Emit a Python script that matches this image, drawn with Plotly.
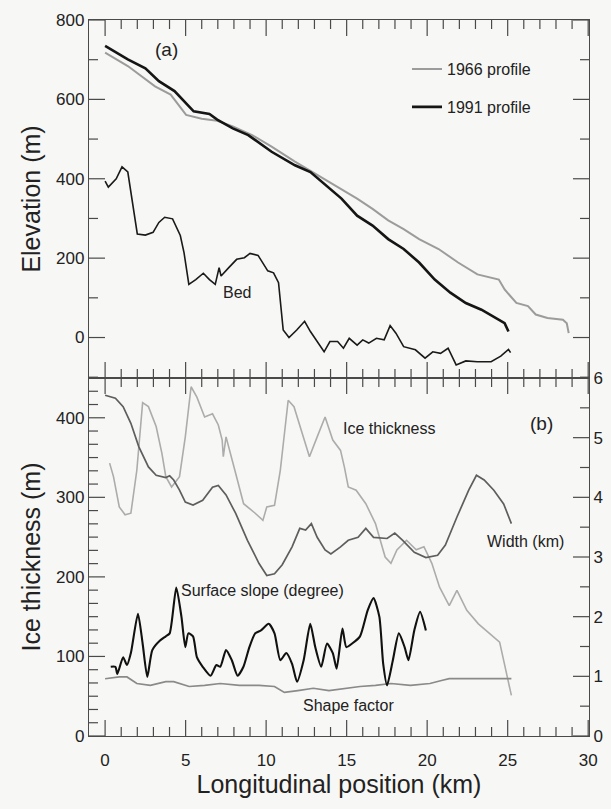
import plotly.graph_objects as go

# ---------------- Panel (a): elevation profiles ----------------
x1991 = [0.0, 1.41, 2.5, 3.34, 4.31, 5.5, 6.48, 6.96, 7.93, 8.89, 10.34, 11.79, 12.75, 13.96,
         14.68, 15.65, 16.61, 17.58, 18.54, 19.5, 20.47, 21.44, 22.4, 23.37, 24.09, 24.57, 24.81, 25.05]
z1991 = [735, 701, 678, 646, 621, 570, 563, 549, 527, 510, 468, 434, 417, 375,
         350, 307, 282, 248, 223, 189, 146, 113, 87, 70, 53, 41, 36, 15]

x1966 = [0.0, 1.41, 3.1, 4.07, 5.03, 6.0, 6.96, 7.93, 9.13, 10.34, 11.79, 13.23, 14.44, 15.65,
         16.61, 17.58, 18.54, 19.5, 20.71, 21.92, 23.12, 23.85, 24.45, 24.81, 25.54, 26.26, 26.74,
         27.47, 28.43, 28.67, 28.79]
z1966 = [718, 684, 633, 612, 561, 551, 546, 532, 510, 481, 443, 409, 379, 350,
         324, 295, 273, 248, 223, 189, 159, 151, 146, 121, 87, 79, 58,
         49, 45, 36, 11]

xbed = [0.0, 0.2, 0.69, 1.05, 1.41, 1.65, 2.0, 2.5, 2.98, 3.34, 3.7, 4.19, 4.67, 4.9, 5.2, 5.63,
        6.1, 6.48, 6.84, 7.08, 7.2, 7.68, 8.17, 8.65, 9.0, 9.5, 10.1, 10.46, 10.77, 11.06, 11.42,
        11.9, 12.39, 12.75, 13.23, 13.6, 13.96, 14.44, 14.8, 15.16, 15.65, 16.0, 16.37, 16.85,
        17.33, 17.7, 18.06, 18.54, 19.27, 19.87, 20.35, 20.83, 21.3, 21.8, 22.4, 23.12, 23.97,
        24.57, 25.05, 25.18]
zbed = [394, 379, 400, 430, 417, 350, 261, 258, 265, 290, 303, 299, 257, 214, 134, 146,
        162, 146, 134, 176, 155, 176, 197, 201, 212, 207, 168, 163, 138, 19, 0,
        19, 41, 15, -14, -36, -10, -10, -27, -2, -19, -6, -14, -2,
        -6, 30, 11, -23, -31, -52, -36, -40, -27, -69, -59, -61, -61,
        -47, -30, -38]

# ---------------- Panel (b) ----------------
x_thick = [0.28, 0.52, 0.88, 1.24, 1.6, 1.97, 2.33, 2.69, 3.17, 3.53, 3.77, 4.13, 4.62, 4.98,
           5.34, 5.7, 6.18, 6.67, 7.03, 7.27, 7.34, 7.51, 8.11, 8.6, 9.32, 9.8, 10.04, 10.52,
           10.88, 11.37, 11.73, 12.21, 12.69, 13.17, 13.66, 14.14, 14.62, 14.86, 15.1, 15.59,
           16.19, 16.79, 17.15, 17.39, 17.75, 18.12, 18.72, 19.32, 19.8, 20.29, 20.77, 21.37,
           21.85, 22.46, 23.18, 23.9, 24.5, 24.75, 24.99, 25.23]
ice_thickness = [343, 326, 288, 278, 280, 334, 419, 414, 389, 355, 326, 313, 326, 376,
                 439, 426, 401, 405, 391, 372, 351, 376, 330, 292, 280, 271, 288, 290,
                 334, 422, 414, 384, 351, 376, 401, 372, 359, 338, 313, 309,
                 292, 267, 242, 225, 217, 234, 246, 234, 238, 217, 187, 164,
                 183, 158, 141, 129, 118, 95, 74, 51]

x_width = [0.0, 0.64, 1.12, 1.6, 2.09, 2.69, 3.17, 3.77, 4.01, 4.26, 4.62, 4.98, 5.46, 6.06,
           6.67, 7.03, 7.51, 8.11, 8.84, 9.56, 10.04, 10.52, 11.0, 11.61, 12.09, 12.45, 12.81,
           13.17, 13.66, 14.02, 14.62, 15.1, 15.71, 16.19, 16.67, 17.51, 17.99, 18.48, 19.2,
           19.92, 20.65, 21.13, 21.85, 22.58, 23.06, 23.54, 24.14, 24.75, 25.23]
width_km = [5.71, 5.66, 5.52, 5.24, 4.85, 4.51, 4.37, 4.33, 4.36, 4.29, 4.12, 3.92, 3.87, 3.95,
            4.17, 4.2, 4.04, 3.73, 3.28, 2.89, 2.69, 2.72, 2.87, 3.17, 3.48, 3.45, 3.56,
            3.33, 3.12, 3.05, 3.17, 3.28, 3.33, 3.48, 3.33, 3.31, 3.4, 3.28, 3.08,
            2.99, 3.03, 3.2, 3.67, 4.12, 4.37, 4.29, 4.12, 3.89, 3.56]

x_slope = [0.35, 0.64, 0.76, 1.12, 1.36, 1.6, 2.04, 2.33, 2.62, 2.93, 3.41, 3.77, 4.01, 4.42,
           4.74, 4.98, 5.17, 5.46, 5.7, 6.06, 6.55, 6.91, 7.15, 7.51, 7.87, 8.23, 8.59, 8.96,
           9.32, 9.68, 10.16, 10.52, 10.88, 11.25, 11.61, 11.92, 12.33, 12.74, 13.05, 13.42,
           13.78, 14.14, 14.38, 14.74, 14.98, 15.34, 15.83, 16.31, 16.67, 17.03, 17.27, 17.51,
           17.87, 18.24, 18.6, 18.84, 19.2, 19.56, 19.92]
slope_deg = [1.16, 1.16, 1.04, 1.32, 1.19, 1.39, 2.05, 1.55, 0.99, 1.44, 1.6, 1.67, 1.72, 2.49,
             2.0, 1.49, 1.72, 1.67, 1.32, 1.16, 1.01, 1.19, 1.16, 1.44, 1.27, 1.01, 1.16, 1.49,
             1.72, 1.77, 1.88, 1.72, 1.27, 1.39, 1.21, 0.91, 1.27, 1.88, 1.49, 1.16,
             1.55, 1.39, 1.13, 1.8, 1.49, 1.55, 1.67, 2.11, 2.31, 2.0, 1.21, 0.85,
             1.27, 1.72, 1.49, 1.27, 1.77, 2.08, 1.77]

x_shape = [0.0, 0.88, 1.36, 1.97, 2.81, 3.77, 4.26, 5.22, 6.18, 7.15, 8.35, 9.56, 10.52, 11.13,
           11.97, 12.93, 13.9, 14.86, 15.83, 16.79, 17.75, 18.96, 20.17, 20.89, 21.37, 25.23]
shape_factor = [0.96, 0.99, 0.99, 0.88, 0.85, 0.91, 0.91, 0.83, 0.85, 0.88, 0.85, 0.85, 0.83, 0.73,
                0.76, 0.8, 0.76, 0.8, 0.83, 0.85, 0.88, 0.85, 0.88, 0.93, 0.96, 0.96]

# ---------------- tick positions ----------------
x_major_ticks = [0, 5, 10, 15, 20, 25, 30]
x_minor_ticks = [v for v in range(0, 31) if v % 5 != 0]
elev_major_ticks = [0, 200, 400, 600, 800]
elev_minor_ticks = [-100, 100, 300, 500, 700]
thick_major_ticks = [0, 100, 200, 300, 400]
thick_minor_ticks = [k * 100 / 6 for k in range(1, 28) if k % 6 != 0]
right_major_ticks = [0, 1, 2, 3, 4, 5, 6]
right_minor_ticks = [0.5, 1.5, 2.5, 3.5, 4.5, 5.5]

FONT = "Liberation Sans, Arial, Helvetica, sans-serif"
BG = "#f7f7f5"
AX = "#4a4a4a"
XR = [-1.0, 30.05]
YR_TOP = [-102, 800]
YR_BOT = [0, 450]
YR_RIGHT = [0, 6]
W, H = 611, 809
ML, MR, MT, MB = 89, 22, 20, 73
PW = W - ML - MR            # plot width in px
PH = (H - MT - MB) / 2      # height of one panel in px
MAJ, MIN = 16, 9            # tick lengths in px

fig = go.Figure()

fig.add_trace(go.Scatter(x=x1966, y=z1966, mode="lines", name="1966 profile",
                         line=dict(color="#9c9c9c", width=2), xaxis="x", yaxis="y",
                         legendgroup="a"))
fig.add_trace(go.Scatter(x=x1991, y=z1991, mode="lines", name="1991 profile",
                         line=dict(color="#151515", width=2.6), xaxis="x", yaxis="y",
                         legendgroup="b"))
fig.add_trace(go.Scatter(x=xbed, y=zbed, mode="lines", name="Bed", showlegend=False,
                         line=dict(color="#1a1a1a", width=1.6), xaxis="x", yaxis="y"))

fig.add_trace(go.Scatter(x=x_thick, y=ice_thickness, mode="lines", showlegend=False,
                         line=dict(color="#acacac", width=1.6), xaxis="x2", yaxis="y2"))
fig.add_trace(go.Scatter(x=x_width, y=width_km, mode="lines", showlegend=False,
                         line=dict(color="#5e5e5e", width=1.7), xaxis="x2", yaxis="y3"))
fig.add_trace(go.Scatter(x=x_shape, y=shape_factor, mode="lines", showlegend=False,
                         line=dict(color="#8a8a8a", width=1.7), xaxis="x2", yaxis="y3"))
fig.add_trace(go.Scatter(x=x_slope, y=slope_deg, mode="lines", showlegend=False,
                         line=dict(color="#111111", width=2.1, shape="spline", smoothing=0.6),
                         xaxis="x2", yaxis="y3"))


# ---------------- inward tick marks, converted from px to each axis' units ----------------
def px_to_x(px):
    return px * (XR[1] - XR[0]) / PW


def px_to_y(px, yr):
    return px * (yr[1] - yr[0]) / PH


def x_tick_trace(vals, length_px, yr, xa, ya):
    L = px_to_y(length_px, yr)
    xs, ys = [], []
    for v in vals:
        xs += [v, v, None, v, v, None]
        ys += [yr[0], yr[0] + L, None, yr[1], yr[1] - L, None]
    fig.add_trace(go.Scatter(x=xs, y=ys, mode="lines", showlegend=False, hoverinfo="skip",
                             line=dict(color=AX, width=1.2), xaxis=xa, yaxis=ya))


def y_tick_trace(vals, length_px, xa, ya, left=True, right=True):
    L = px_to_x(length_px)
    xs, ys = [], []
    for v in vals:
        if left:
            xs += [XR[0], XR[0] + L, None]
            ys += [v, v, None]
        if right:
            xs += [XR[1], XR[1] - L, None]
            ys += [v, v, None]
    fig.add_trace(go.Scatter(x=xs, y=ys, mode="lines", showlegend=False, hoverinfo="skip",
                             line=dict(color=AX, width=1.2), xaxis=xa, yaxis=ya))


x_tick_trace(x_major_ticks, MAJ, YR_TOP, "x", "y")
x_tick_trace(x_minor_ticks, MIN, YR_TOP, "x", "y")
x_tick_trace(x_major_ticks, MAJ, YR_BOT, "x2", "y2")
x_tick_trace(x_minor_ticks, MIN, YR_BOT, "x2", "y2")
y_tick_trace(elev_major_ticks, MAJ, "x", "y")
y_tick_trace(elev_minor_ticks, MIN, "x", "y")
y_tick_trace(thick_major_ticks, MAJ, "x2", "y2", right=False)
y_tick_trace(thick_minor_ticks, MIN, "x2", "y2", right=False)
y_tick_trace(right_major_ticks, MAJ, "x2", "y3", left=False)
y_tick_trace(right_minor_ticks, MIN, "x2", "y3", left=False)

TF = dict(family=FONT, size=17, color="#222")
TITLEF = dict(family=FONT, size=25, color="#222")


def axis(**kw):
    d = dict(showline=True, linecolor=AX, linewidth=1.3, ticks="", showgrid=False,
             zeroline=False, tickfont=TF, tickmode="linear", tick0=0, mirror=True)
    d.update(kw)
    return d


fig.update_layout(
    template="none",
    width=W, height=H,
    margin=dict(l=ML, r=MR, t=MT, b=MB),
    paper_bgcolor=BG, plot_bgcolor=BG,
    font=dict(family=FONT, color="#222"),
    xaxis=axis(domain=[0, 1], anchor="y", range=XR, dtick=5, showticklabels=False),
    yaxis=axis(domain=[0.5, 1.0], anchor="x", range=YR_TOP, dtick=200,
               title=dict(text="Elevation (m)", font=TITLEF, standoff=8)),
    xaxis2=axis(domain=[0, 1], anchor="y2", range=XR, dtick=5, ticklabelstandoff=8,
                title=dict(text="Longitudinal position (km)", font=TITLEF, standoff=4)),
    yaxis2=axis(domain=[0, 0.5], anchor="x2", range=YR_BOT, dtick=100, mirror=False,
                title=dict(text="Ice thickness (m)", font=TITLEF, standoff=8)),
    yaxis3=axis(overlaying="y2", side="right", anchor="x2", range=YR_RIGHT, dtick=1,
                mirror=False),
    legend=dict(x=0.636, y=0.955, xanchor="left", yanchor="top", bgcolor="rgba(0,0,0,0)",
                font=dict(family=FONT, size=16, color="#222"), tracegroupgap=14),
    showlegend=True,
)

ann_font = dict(family=FONT, size=16, color="#222")
annotations = [
    dict(x=3.8, y=726, xref="x", yref="y", text="(a)", font=dict(family=FONT, size=19, color="#222")),
    dict(x=8.2, y=113, xref="x", yref="y", text="Bed", font=ann_font),
    dict(x=17.6, y=386, xref="x2", yref="y2", text="Ice thickness", font=ann_font),
    dict(x=27.1, y=393, xref="x2", yref="y2", text="(b)", font=dict(family=FONT, size=19, color="#222")),
    dict(x=26.1, y=244, xref="x2", yref="y2", text="Width (km)", font=ann_font),
    dict(x=4.6, y=183, xref="x2", yref="y2", text="Surface slope (degree)", font=ann_font,
         xanchor="left"),
    dict(x=15.1, y=38, xref="x2", yref="y2", text="Shape factor", font=ann_font),
]
for a in annotations:
    a["showarrow"] = False
    fig.add_annotation(**a)

fig.write_html("out.html")
